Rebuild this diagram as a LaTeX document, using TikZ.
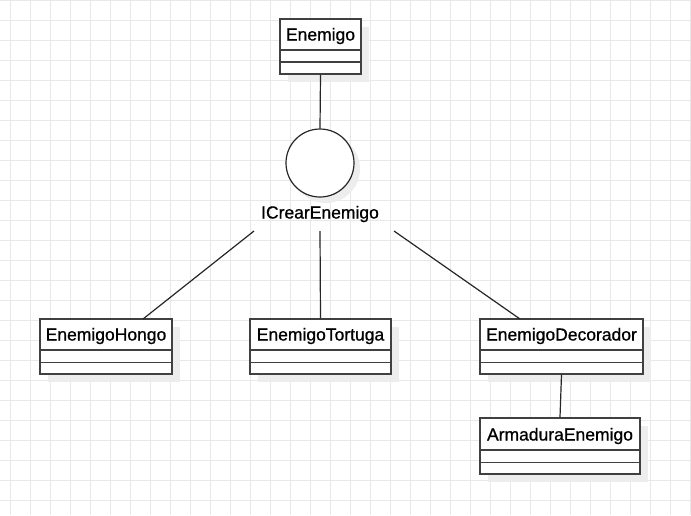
\documentclass[tikz,border=0pt]{standalone}
\usepackage{fontspec}
\setmainfont{Liberation Sans}[FakeBold=0.8]
\begin{document}
\begin{tikzpicture}[x=1pt,y=-1pt,
  gridline/.style={draw=black!9,line width=0.9pt},
  shadowbox/.style={fill=black!7,draw=none},
  classbox/.style={draw=black!75,line width=1.4pt,fill=white,inner sep=0pt},
  divline/.style={draw=black!75,line width=1.3pt},
  conn/.style={draw=black!85,line width=1.2pt},
  lbl/.style={font=\fontsize{17.5}{20}\selectfont,inner sep=0pt,anchor=base}
]
\useasboundingbox (0,0) rectangle (691,515);
\fill[white] (0,0) rectangle (691,515);
% grid
\foreach \gx in {10,30,...,690} \draw[gridline] (\gx,0) -- (\gx,515);
\foreach \gy in {0,20,...,500} \draw[gridline] (0,\gy) -- (691,\gy);

% shadows
\fill[shadowbox] (288,27) rectangle (369,82);
\fill[shadowbox] (48,327) rectangle (180,382);
\fill[shadowbox] (258,327) rectangle (399,382);
\fill[shadowbox] (488,327) rectangle (651,382);
\fill[shadowbox] (488,426) rectangle (648,482);
\fill[shadowbox] (326,169) circle (34);

% class boxes
\node[classbox,minimum width=81,minimum height=55] (enemigo) at (320.5,46.5) {};
\draw[divline] (280,50) -- (361,50) (280,62) -- (361,62);
\node[lbl] (enemigoT) at (320.5,40.5) {Enemigo};

\node[classbox,minimum width=132,minimum height=55] (hongo) at (106,346.5) {};
\draw[divline] (40,350) -- (172,350) (40,362.5) -- (172,362.5);
\node[lbl] (hongoT) at (106,340.5) {EnemigoHongo};

\node[classbox,minimum width=141,minimum height=55] (tortuga) at (320.5,346.5) {};
\draw[divline] (250,350) -- (391,350) (250,362.5) -- (391,362.5);
\node[lbl] (tortugaT) at (320.5,340.5) {EnemigoTortuga};

\node[classbox,minimum width=163,minimum height=55] (decorador) at (561.5,346.5) {};
\draw[divline] (480,350) -- (643,350) (480,362.5) -- (643,362.5);
\node[lbl] (decoradorT) at (561.5,340.5) {EnemigoDecorador};

\node[classbox,minimum width=160,minimum height=56] (armadura) at (560,446) {};
\draw[divline] (480,450) -- (640,450) (480,462.5) -- (640,462.5);
\node[lbl] (armaduraT) at (560,440.5) {ArmaduraEnemigo};

% interface
\node[draw=black!85,line width=1.2pt,fill=white,circle,minimum size=68,inner sep=0pt] (iface) at (320,163) {};
\node[lbl] (ifaceT) at (320,218.5) {ICrearEnemigo};

\coordinate (lA) at (254,231);
\coordinate (lB) at (320,231);
\coordinate (lC) at (394,231);

% connectors
\draw[conn] (enemigo.south) -- (iface.north);
\draw[conn] (lA) -- (143,319) coordinate (hongoTop);
\draw[conn] (lB) -- (tortuga.north);
\draw[conn] (lC) -- (520,319) coordinate (decTop);
\draw[conn] (decorador.south) -- (armadura.north);
\end{tikzpicture}
\end{document}
